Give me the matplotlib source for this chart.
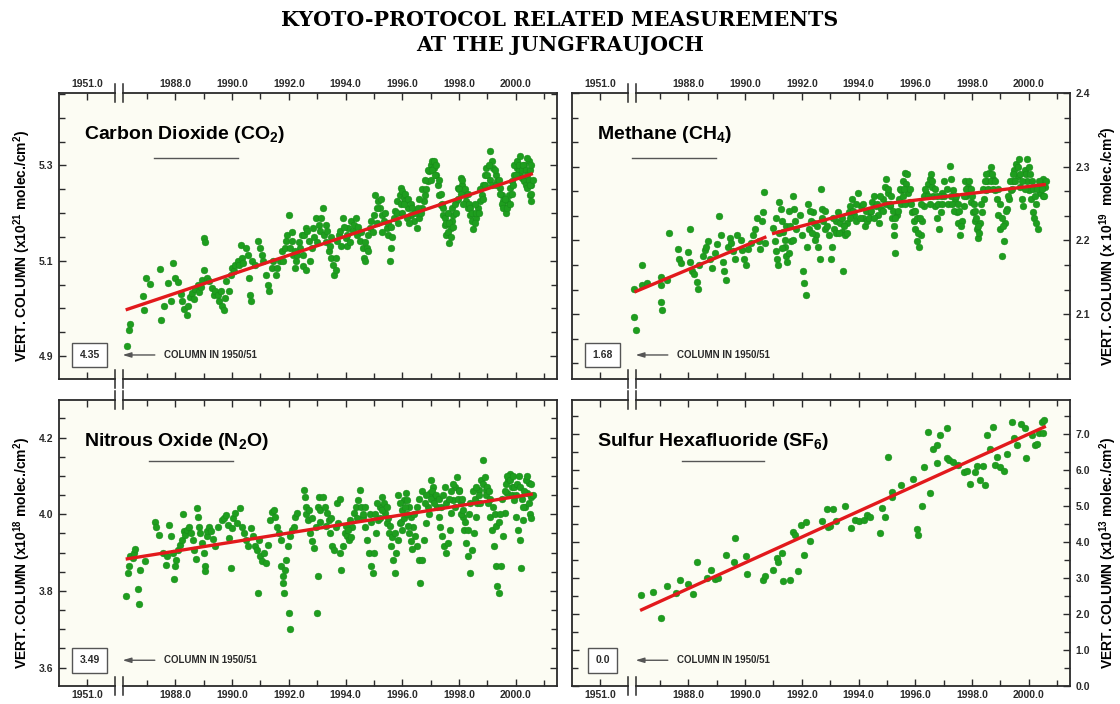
import numpy as np
import matplotlib
matplotlib.use('Agg')
import matplotlib.pyplot as plt
from matplotlib.ticker import FixedLocator, MultipleLocator
import matplotlib.transforms as mtransforms

plt.rcParams['font.family'] = ['Liberation Sans', 'DejaVu Sans']
plt.rcParams['font.weight'] = 'bold'
plt.rcParams['mathtext.fontset'] = 'custom'
plt.rcParams['mathtext.rm'] = 'Liberation Sans:bold'
plt.rcParams['mathtext.bf'] = 'Liberation Sans:bold'
plt.rcParams['mathtext.default'] = 'bf'

# ---- data (year, vertical column) ----
co2_pts = [
    (1986.28, 4.922), (1986.35, 4.955), (1986.40, 4.968),
    (1986.86, 5.026), (1986.90, 4.996), (1986.95, 5.064), (1987.10, 5.052), (1987.45, 5.082), (1987.50, 4.975),
    (1987.60, 5.006), (1987.75, 5.053), (1987.85, 5.015), (1987.90, 5.095), (1988.00, 5.064),
    (1988.10, 5.055), (1988.20, 5.030), (1988.25, 5.015), (1988.30, 4.998), (1988.40, 4.987), (1988.45, 5.005),
    (1988.50, 5.025), (1988.60, 5.033), (1988.65, 5.020), (1988.70, 5.040), (1988.80, 5.050), (1988.85, 5.035),
    (1988.90, 5.045), (1988.95, 5.060), (1989.00, 5.080), (1989.02, 5.148), (1989.05, 5.140),
    (1989.10, 5.064), (1989.20, 5.057), (1989.30, 5.043), (1989.35, 5.029), (1989.40, 5.036), (1989.50, 5.029),
    (1989.55, 5.015), (1989.60, 5.036), (1989.65, 5.006), (1989.70, 4.997), (1989.75, 5.022), (1989.80, 5.057),
    (1989.90, 5.036), (1989.95, 5.071), (1990.00, 5.085),
    (1990.05, 5.078), (1990.10, 5.092), (1990.20, 5.099), (1990.25, 5.092), (1990.30, 5.134), (1990.35, 5.106),
    (1990.40, 5.096), (1990.50, 5.127), (1990.55, 5.113), (1990.60, 5.064), (1990.62, 5.029), (1990.65, 5.015),
    (1990.70, 5.099), (1990.80, 5.092), (1990.90, 5.141), (1991.00, 5.127),
    (1991.05, 5.113), (1991.10, 5.099), (1991.20, 5.071), (1991.25, 5.050), (1991.30, 5.036), (1991.40, 5.085),
    (1991.45, 5.099), (1991.55, 5.071), (1991.60, 5.085), (1991.70, 5.099), (1991.75, 5.120), (1991.80, 5.099),
    (1991.85, 5.127), (1991.90, 5.141), (1991.95, 5.155), (1992.00, 5.197),
    (1992.05, 5.127), (1992.10, 5.141), (1992.15, 5.113), (1992.20, 5.085), (1992.25, 5.099), (1992.30, 5.113),
    (1992.40, 5.127), (1992.45, 5.155), (1992.50, 5.113), (1992.55, 5.155), (1992.60, 5.169), (1992.65, 5.162),
    (1992.70, 5.141), (1992.80, 5.127), (1992.85, 5.169), (1992.95, 5.190),
    (1993.05, 5.176), (1993.10, 5.162), (1993.20, 5.211), (1993.25, 5.155), (1993.30, 5.176), (1993.35, 5.162),
    (1993.40, 5.120), (1993.50, 5.106), (1993.55, 5.092), (1993.60, 5.071), (1993.65, 5.106), (1993.70, 5.141),
    (1993.75, 5.155), (1993.80, 5.162), (1993.90, 5.190), (1994.00, 5.148),
    (1994.05, 5.155), (1994.10, 5.169), (1994.20, 5.183), (1994.25, 5.162), (1994.30, 5.176), (1994.40, 5.155),
    (1994.50, 5.141), (1994.60, 5.127), (1994.65, 5.106), (1994.70, 5.099), (1994.75, 5.127), (1994.80, 5.155),
    (1994.85, 5.169), (1994.90, 5.183), (1995.00, 5.197),
    (1995.05, 5.239), (1995.15, 5.225), (1995.20, 5.211), (1995.30, 5.197), (1995.35, 5.183), (1995.45, 5.169),
    (1995.50, 5.155), (1995.55, 5.099), (1995.60, 5.127), (1995.70, 5.190), (1995.75, 5.204), (1995.80, 5.225),
    (1995.90, 5.239), (1995.95, 5.253),
    (1996.00, 5.246), (1996.05, 5.232), (1996.10, 5.225), (1996.20, 5.211), (1996.30, 5.197), (1996.40, 5.183),
    (1996.50, 5.169), (1996.60, 5.190), (1996.70, 5.211), (1996.75, 5.225), (1996.80, 5.239), (1996.90, 5.267),
    (1996.95, 5.288), (1997.00, 5.302),
    (1997.05, 5.309), (1997.10, 5.295), (1997.20, 5.281), (1997.25, 5.260), (1997.30, 5.239), (1997.35, 5.218),
    (1997.45, 5.197), (1997.50, 5.176), (1997.55, 5.155), (1997.65, 5.137), (1997.70, 5.169), (1997.75, 5.183),
    (1997.80, 5.197), (1997.90, 5.225), (1997.95, 5.253),
    (1998.05, 5.274), (1998.10, 5.260), (1998.20, 5.239), (1998.25, 5.225), (1998.30, 5.211), (1998.40, 5.197),
    (1998.45, 5.183), (1998.50, 5.166), (1998.60, 5.190), (1998.65, 5.211), (1998.75, 5.225), (1998.80, 5.239),
    (1998.85, 5.260), (1998.90, 5.281), (1998.95, 5.295),
    (1999.10, 5.330), (1999.15, 5.309), (1999.20, 5.295), (1999.30, 5.281), (1999.35, 5.267), (1999.45, 5.253),
    (1999.50, 5.239), (1999.55, 5.225), (1999.60, 5.211), (1999.70, 5.225), (1999.75, 5.239), (1999.80, 5.253),
    (1999.85, 5.267), (1999.95, 5.281),
    (2000.00, 5.302), (2000.05, 5.295), (2000.10, 5.288), (2000.15, 5.281), (2000.20, 5.274), (2000.30, 5.267),
    (2000.35, 5.260), (2000.40, 5.253), (2000.50, 5.239), (2000.55, 5.225), (2000.45, 5.309), (2000.40, 5.316),
    (2000.30, 5.302), (2000.55, 5.260),
    # denser part of the cloud
    (1992.10, 5.160), (1992.20, 5.120), (1992.35, 5.140), (1992.50, 5.090), (1992.60, 5.080), (1992.75, 5.100),
    (1992.90, 5.150), (1993.00, 5.140), (1993.15, 5.190), (1993.30, 5.140), (1993.45, 5.130), (1993.50, 5.150),
    (1993.65, 5.080), (1993.85, 5.130), (1993.95, 5.170), (1994.05, 5.130), (1994.15, 5.140), (1994.35, 5.190),
    (1994.45, 5.170), (1994.55, 5.160), (1994.70, 5.140), (1994.80, 5.120), (1994.95, 5.160),
    (1995.10, 5.180), (1995.10, 5.210), (1995.25, 5.230), (1995.30, 5.160), (1995.40, 5.200), (1995.50, 5.180),
    (1995.60, 5.170), (1995.65, 5.150), (1995.80, 5.200), (1995.85, 5.180), (1995.95, 5.220),
    (1996.00, 5.200), (1996.05, 5.220), (1996.10, 5.240), (1996.15, 5.190), (1996.20, 5.230), (1996.25, 5.180),
    (1996.30, 5.220), (1996.35, 5.210), (1996.45, 5.200), (1996.55, 5.210), (1996.60, 5.230), (1996.65, 5.200),
    (1996.70, 5.250), (1996.80, 5.270), (1996.85, 5.250), (1996.90, 5.290),
    (1997.00, 5.270), (1997.05, 5.290), (1997.10, 5.310), (1997.15, 5.280), (1997.20, 5.300), (1997.30, 5.270),
    (1997.35, 5.240), (1997.40, 5.220), (1997.45, 5.210), (1997.50, 5.190), (1997.55, 5.180), (1997.60, 5.160),
    (1997.60, 5.200), (1997.65, 5.180), (1997.70, 5.150), (1997.75, 5.210), (1997.80, 5.170), (1997.85, 5.220),
    (1997.90, 5.200), (1997.95, 5.230),
    (1998.00, 5.250), (1998.05, 5.240), (1998.10, 5.270), (1998.15, 5.220), (1998.20, 5.250), (1998.30, 5.240),
    (1998.35, 5.220), (1998.40, 5.210), (1998.45, 5.200), (1998.55, 5.180), (1998.55, 5.220), (1998.60, 5.200),
    (1998.70, 5.200), (1998.75, 5.250), (1998.85, 5.230), (1998.90, 5.260),
    (1999.00, 5.280), (1999.05, 5.300), (1999.10, 5.270), (1999.15, 5.260), (1999.25, 5.290), (1999.30, 5.260),
    (1999.40, 5.270), (1999.45, 5.240), (1999.50, 5.220), (1999.55, 5.210), (1999.60, 5.230), (1999.65, 5.200),
    (1999.70, 5.210), (1999.80, 5.220), (1999.85, 5.240), (1999.90, 5.260), (1999.95, 5.300),
    (2000.00, 5.280), (2000.05, 5.310), (2000.10, 5.300), (2000.15, 5.320), (2000.20, 5.290), (2000.25, 5.300),
    (2000.35, 5.290), (2000.40, 5.280), (2000.45, 5.270), (2000.50, 5.290), (2000.55, 5.300), (2000.50, 5.260),
    (2000.55, 5.240), (2000.60, 5.270),
]
ch4_pts = [
    (1986.08, 2.134), (1986.10, 2.096), (1986.16, 2.078), (1986.35, 2.167), (1986.38, 2.140), (1986.54, 2.142),
    (1987.02, 2.140), (1987.05, 2.150), (1987.05, 2.116), (1987.06, 2.106), (1987.24, 2.146), (1987.33, 2.210),
    (1987.62, 2.189), (1987.68, 2.175), (1987.75, 2.169),
    (1988.06, 2.215), (1988.00, 2.184), (1988.06, 2.171), (1988.13, 2.159), (1988.19, 2.155), (1988.32, 2.144),
    (1988.34, 2.134), (1988.38, 2.167), (1988.51, 2.179), (1988.57, 2.187), (1988.63, 2.191), (1988.70, 2.199),
    (1988.76, 2.175), (1988.83, 2.163), (1988.95, 2.183), (1989.02, 2.195), (1989.08, 2.233), (1989.14, 2.207),
    (1989.21, 2.171), (1989.27, 2.159), (1989.33, 2.146), (1989.40, 2.191), (1989.46, 2.203), (1989.52, 2.197),
    (1989.59, 2.185), (1989.65, 2.175), (1989.71, 2.207), (1989.84, 2.201), (1989.90, 2.187), (1989.97, 2.175),
    (1990.03, 2.167), (1990.10, 2.189), (1990.22, 2.197), (1990.29, 2.207), (1990.35, 2.215), (1990.41, 2.231),
    (1990.48, 2.199), (1990.54, 2.189), (1990.60, 2.227), (1990.63, 2.239), (1990.67, 2.266), (1990.70, 2.197),
    (1990.98, 2.217), (1991.05, 2.199), (1991.09, 2.185), (1991.14, 2.175), (1991.17, 2.167), (1991.21, 2.252),
    (1991.26, 2.243), (1991.30, 2.227), (1991.34, 2.211), (1991.39, 2.191), (1991.44, 2.179), (1991.49, 2.171),
    (1991.56, 2.183), (1991.62, 2.199), (1991.68, 2.260), (1991.72, 2.243), (1991.75, 2.227), (1991.78, 2.215),
    (1991.94, 2.235), (1992.00, 2.207), (1992.03, 2.159), (1992.06, 2.142), (1992.13, 2.126), (1992.19, 2.191),
    (1992.25, 2.215), (1992.32, 2.227), (1992.38, 2.239), (1992.44, 2.223), (1992.51, 2.207), (1992.57, 2.191),
    (1992.63, 2.175), (1992.66, 2.270), (1992.70, 2.243), (1992.76, 2.227), (1992.83, 2.215),
    (1992.95, 2.207), (1993.02, 2.175), (1993.08, 2.191), (1993.14, 2.215), (1993.21, 2.227), (1993.27, 2.239),
    (1993.33, 2.223), (1993.40, 2.211), (1993.46, 2.159), (1993.52, 2.207), (1993.59, 2.223), (1993.65, 2.239),
    (1993.71, 2.247), (1993.78, 2.256), (1993.84, 2.235), (1993.90, 2.227),
    (1993.97, 2.264), (1994.10, 2.247), (1994.16, 2.231), (1994.22, 2.219), (1994.29, 2.227), (1994.41, 2.239),
    (1994.48, 2.252), (1994.54, 2.260), (1994.60, 2.247), (1994.67, 2.235), (1994.73, 2.223), (1994.79, 2.243),
    (1994.86, 2.256), (1994.92, 2.272),
    (1994.98, 2.284), (1995.05, 2.264), (1995.11, 2.247), (1995.17, 2.231), (1995.24, 2.207), (1995.30, 2.183),
    (1995.36, 2.235), (1995.43, 2.256), (1995.49, 2.268), (1995.56, 2.280), (1995.62, 2.292), (1995.68, 2.276),
    (1995.75, 2.264), (1995.81, 2.252), (1995.87, 2.239), (1995.94, 2.227),
    (1996.00, 2.215), (1996.06, 2.199), (1996.13, 2.191), (1996.19, 2.207), (1996.25, 2.227), (1996.32, 2.247),
    (1996.38, 2.264), (1996.44, 2.276), (1996.51, 2.284), (1996.57, 2.272), (1996.63, 2.260), (1996.70, 2.247),
    (1996.76, 2.231), (1996.83, 2.215), (1996.89, 2.239),
    (1996.95, 2.264), (1997.02, 2.280), (1997.21, 2.301), (1997.27, 2.284), (1997.33, 2.268), (1997.40, 2.256),
    (1997.46, 2.239), (1997.52, 2.223), (1997.59, 2.207), (1997.65, 2.227), (1997.71, 2.247), (1997.78, 2.260),
    (1997.84, 2.272), (1997.90, 2.264), (1997.97, 2.252),
    (1998.03, 2.239), (1998.10, 2.227), (1998.16, 2.215), (1998.22, 2.203), (1998.29, 2.223), (1998.35, 2.239),
    (1998.41, 2.256), (1998.48, 2.268), (1998.54, 2.280), (1998.60, 2.292), (1998.67, 2.300), (1998.73, 2.284),
    (1998.79, 2.268), (1998.86, 2.256),
    (1998.92, 2.235), (1998.98, 2.215), (1999.05, 2.179), (1999.11, 2.199), (1999.17, 2.223), (1999.24, 2.243),
    (1999.30, 2.256), (1999.36, 2.268), (1999.43, 2.280), (1999.49, 2.296), (1999.56, 2.304), (1999.62, 2.288),
    (1999.68, 2.272), (1999.75, 2.256), (1999.81, 2.247),
    (1999.87, 2.296), (1999.94, 2.280), (2000.00, 2.268), (2000.06, 2.256), (2000.13, 2.239), (2000.19, 2.231),
    (2000.25, 2.223), (2000.32, 2.215), (2000.38, 2.264), (2000.44, 2.276), (2000.51, 2.284), (2000.57, 2.272),
    # denser part of the cloud
    (1991.10, 2.230), (1991.20, 2.210), (1991.30, 2.190), (1991.40, 2.200), (1991.45, 2.220), (1991.55, 2.240),
    (1991.60, 2.220), (1991.70, 2.200), (1992.20, 2.250), (1992.30, 2.240), (1992.35, 2.210), (1992.45, 2.200),
    (1992.55, 2.220), (1992.70, 2.230), (1992.80, 2.240), (1992.90, 2.220),
    (1993.10, 2.230), (1993.20, 2.210), (1993.30, 2.210), (1993.40, 2.230), (1993.50, 2.220), (1993.60, 2.210),
    (1993.70, 2.230), (1993.80, 2.240), (1993.90, 2.250),
    (1994.05, 2.230), (1994.15, 2.250), (1994.25, 2.240), (1994.35, 2.230), (1994.45, 2.240), (1994.55, 2.230),
    (1994.65, 2.250), (1994.75, 2.260), (1994.85, 2.240), (1994.95, 2.250),
    (1995.05, 2.270), (1995.10, 2.250), (1995.15, 2.260), (1995.20, 2.240), (1995.25, 2.220), (1995.30, 2.230),
    (1995.40, 2.240), (1995.45, 2.270), (1995.50, 2.250), (1995.55, 2.260), (1995.60, 2.270), (1995.65, 2.250),
    (1995.70, 2.290), (1995.80, 2.270), (1995.85, 2.250), (1995.95, 2.240),
    (1996.00, 2.240), (1996.05, 2.230), (1996.10, 2.210), (1996.15, 2.230), (1996.20, 2.250), (1996.30, 2.260),
    (1996.35, 2.270), (1996.45, 2.260), (1996.50, 2.250), (1996.55, 2.290), (1996.60, 2.280), (1996.70, 2.270),
    (1996.75, 2.260), (1996.80, 2.250), (1996.90, 2.260), (1996.95, 2.250),
    (1997.00, 2.260), (1997.10, 2.270), (1997.15, 2.250), (1997.25, 2.260), (1997.30, 2.250), (1997.35, 2.240),
    (1997.45, 2.260), (1997.50, 2.250), (1997.55, 2.240), (1997.60, 2.220), (1997.70, 2.260), (1997.75, 2.280),
    (1997.80, 2.270), (1997.90, 2.280), (1997.95, 2.270),
    (1998.00, 2.260), (1998.05, 2.250), (1998.10, 2.240), (1998.15, 2.230), (1998.20, 2.220), (1998.25, 2.210),
    (1998.30, 2.250), (1998.40, 2.270), (1998.45, 2.280), (1998.50, 2.290), (1998.55, 2.270), (1998.65, 2.280),
    (1998.70, 2.290), (1998.75, 2.270), (1998.80, 2.280), (1998.90, 2.270),
    (1999.00, 2.250), (1999.05, 2.230), (1999.10, 2.220), (1999.20, 2.240), (1999.25, 2.260), (1999.35, 2.280),
    (1999.40, 2.270), (1999.45, 2.290), (1999.50, 2.280), (1999.60, 2.300), (1999.65, 2.310), (1999.70, 2.290),
    (1999.75, 2.280), (1999.85, 2.270), (1999.90, 2.290), (1999.95, 2.310),
    (2000.00, 2.300), (2000.05, 2.290), (2000.10, 2.280), (2000.15, 2.270), (2000.20, 2.260), (2000.30, 2.270),
    (2000.35, 2.280), (2000.45, 2.270), (2000.50, 2.260), (2000.55, 2.260), (2000.60, 2.280), (2000.25, 2.250),
]
n2o_pts = [
    (1986.25, 3.788), (1986.32, 3.847), (1986.36, 3.864), (1986.40, 3.890), (1986.50, 3.885), (1986.55, 3.899),
    (1986.58, 3.910), (1986.67, 3.806), (1986.73, 3.767), (1986.77, 3.855), (1986.93, 3.877), (1987.27, 3.980),
    (1987.31, 3.968), (1987.44, 3.946), (1987.57, 3.899), (1987.66, 3.868), (1987.70, 3.890), (1987.77, 3.972),
    (1987.83, 3.942), (1987.90, 3.899), (1987.96, 3.830),
    (1987.99, 3.864), (1988.03, 3.881), (1988.09, 3.907), (1988.16, 3.920), (1988.22, 3.933), (1988.26, 4.000),
    (1988.32, 3.955), (1988.35, 3.946), (1988.42, 3.959), (1988.48, 3.968), (1988.55, 3.951), (1988.61, 3.933),
    (1988.67, 3.907), (1988.74, 3.883), (1988.76, 4.016), (1988.80, 3.994), (1988.84, 3.968), (1988.87, 3.951),
    (1988.93, 3.925), (1989.00, 3.899), (1989.03, 3.864), (1989.06, 3.851), (1989.10, 3.942), (1989.13, 3.955),
    (1989.19, 3.968), (1989.26, 3.955), (1989.32, 3.935), (1989.39, 3.916), (1989.51, 3.968), (1989.64, 3.985),
    (1989.71, 3.990), (1989.77, 3.998), (1989.84, 3.972), (1989.90, 3.938), (1989.97, 3.860),
    (1990.00, 3.964), (1990.03, 3.990), (1990.10, 4.003), (1990.16, 3.977), (1990.29, 4.016), (1990.35, 3.968),
    (1990.42, 3.951), (1990.48, 3.933), (1990.55, 3.916), (1990.68, 3.964), (1990.74, 3.942), (1990.81, 3.916),
    (1990.87, 3.907), (1990.91, 3.795), (1990.94, 3.933), (1991.00, 3.890), (1991.07, 3.877), (1991.13, 3.899),
    (1991.20, 3.873), (1991.26, 3.920), (1991.33, 3.985), (1991.39, 4.007), (1991.46, 4.011), (1991.52, 3.994),
    (1991.59, 3.968), (1991.65, 3.951), (1991.72, 3.933),
    (1991.74, 3.864), (1991.78, 3.838), (1991.81, 3.821), (1991.84, 3.795), (1992.00, 3.743), (1992.05, 3.700),
    (1991.88, 3.855), (1991.91, 3.881), (1991.97, 3.916), (1992.04, 3.942), (1992.10, 3.959), (1992.17, 3.968),
    (1992.23, 3.994), (1992.30, 4.003), (1992.52, 4.063), (1992.56, 4.046), (1992.62, 4.020), (1992.69, 3.985),
    (1992.75, 3.951), (1992.82, 3.929), (1992.88, 3.912), (1992.95, 3.968), (1993.01, 4.020), (1992.98, 3.743),
    (1993.04, 3.838), (1993.06, 4.046), (1993.10, 4.011), (1993.20, 4.046), (1993.27, 4.020), (1993.33, 4.003),
    (1993.40, 3.985), (1993.46, 3.951), (1993.53, 3.916), (1993.59, 3.907), (1993.66, 3.968), (1993.72, 3.977),
    (1993.79, 3.899), (1993.85, 3.855),
    (1993.92, 3.916), (1993.98, 3.951), (1994.05, 3.942), (1994.11, 3.933), (1994.17, 3.985), (1994.24, 3.968),
    (1994.30, 4.003), (1994.37, 4.020), (1994.43, 4.037), (1994.50, 4.063), (1994.56, 4.020), (1994.63, 3.994),
    (1994.69, 3.968), (1994.76, 3.933), (1994.82, 3.899), (1994.89, 3.864), (1994.95, 3.847),
    (1995.01, 3.899), (1995.08, 3.951), (1995.14, 3.985), (1995.21, 4.020), (1995.27, 4.046), (1995.34, 4.029),
    (1995.40, 4.003), (1995.47, 3.977), (1995.53, 3.951), (1995.60, 3.916), (1995.66, 3.881), (1995.73, 3.847),
    (1995.79, 3.899), (1995.86, 3.933), (1995.92, 3.977), (1995.99, 4.011), (1996.05, 4.037), (1996.12, 4.055),
    (1996.18, 4.037), (1996.25, 4.020), (1996.31, 3.994), (1996.37, 3.968), (1996.44, 3.942), (1996.50, 3.916),
    (1996.57, 3.881), (1996.63, 3.820),
    (1996.70, 3.881), (1996.76, 3.933), (1996.83, 3.977), (1996.89, 4.020), (1996.96, 4.055), (1997.02, 4.089),
    (1997.09, 4.072), (1997.15, 4.046), (1997.21, 4.020), (1997.28, 3.994), (1997.34, 3.968), (1997.41, 3.942),
    (1997.47, 3.916), (1997.54, 3.899), (1997.60, 3.925), (1997.67, 3.959), (1997.73, 4.003), (1997.80, 4.037),
    (1997.86, 4.072), (1997.93, 4.098),
    (1997.99, 4.063), (1998.06, 4.029), (1998.12, 3.994), (1998.19, 3.959), (1998.25, 3.925), (1998.32, 3.890),
    (1998.38, 3.847), (1998.45, 3.907), (1998.51, 3.951), (1998.58, 3.994), (1998.64, 4.029), (1998.71, 4.063),
    (1998.77, 4.089), (1998.83, 4.141), (1998.90, 4.098), (1998.96, 4.063), (1999.03, 4.029), (1999.09, 3.994),
    (1999.16, 3.959), (1999.22, 3.916), (1999.29, 3.864), (1999.35, 3.812), (1999.42, 3.795), (1999.48, 3.864),
    (1999.55, 3.942), (1999.61, 4.003), (1999.68, 4.055), (1999.74, 4.089), (1999.81, 4.106), (1999.87, 4.072),
    (1999.93, 4.037), (2000.00, 3.994), (2000.06, 3.959), (2000.13, 3.933), (2000.19, 3.860), (2000.26, 3.985),
    (2000.32, 4.020), (2000.39, 4.055), (2000.45, 4.081), (2000.52, 4.046),
    # denser part of the cloud
    (1992.60, 4.000), (1992.70, 4.010), (1992.80, 3.990), (1993.10, 3.980), (1993.30, 3.970), (1993.50, 3.990),
    (1993.70, 4.030), (1993.80, 4.040), (1994.00, 3.970), (1994.10, 3.960), (1994.20, 3.940), (1994.40, 3.990),
    (1994.60, 4.000), (1994.70, 4.020), (1994.85, 4.000), (1994.90, 3.980),
    (1995.05, 4.000), (1995.10, 4.030), (1995.20, 3.990), (1995.30, 4.010), (1995.45, 4.020), (1995.50, 3.990),
    (1995.55, 3.970), (1995.65, 3.940), (1995.75, 3.950), (1995.85, 4.050), (1995.90, 4.030), (1995.95, 3.980),
    (1996.00, 3.960), (1996.05, 3.990), (1996.10, 4.020), (1996.15, 4.000), (1996.20, 3.970), (1996.25, 3.950),
    (1996.30, 3.930), (1996.35, 3.910), (1996.40, 4.000), (1996.50, 4.020), (1996.60, 4.040), (1996.70, 4.060),
    (1996.80, 4.030), (1996.85, 4.050), (1996.95, 4.000),
    (1997.00, 4.040), (1997.05, 4.060), (1997.10, 4.030), (1997.20, 4.050), (1997.30, 4.040), (1997.35, 4.020),
    (1997.45, 4.050), (1997.50, 4.070), (1997.55, 4.030), (1997.65, 4.040), (1997.70, 4.060), (1997.80, 4.080),
    (1997.85, 4.020), (1997.95, 4.040),
    (1998.00, 4.060), (1998.05, 4.000), (1998.10, 4.040), (1998.15, 4.010), (1998.20, 3.980), (1998.30, 3.960),
    (1998.35, 4.000), (1998.40, 4.030), (1998.50, 4.060), (1998.55, 4.040), (1998.60, 4.070), (1998.70, 4.050),
    (1998.75, 4.030), (1998.85, 4.080), (1998.95, 4.050),
    (1999.00, 4.070), (1999.05, 4.060), (1999.10, 4.040), (1999.20, 4.020), (1999.25, 4.000), (1999.30, 3.970),
    (1999.40, 3.980), (1999.45, 4.000), (1999.50, 4.040), (1999.60, 4.060), (1999.65, 4.080), (1999.70, 4.100),
    (1999.80, 4.090), (1999.85, 4.050), (1999.90, 4.100), (1999.95, 4.070),
    (2000.00, 4.050), (2000.05, 4.080), (2000.10, 4.100), (2000.15, 4.070), (2000.20, 4.040), (2000.25, 4.020),
    (2000.30, 4.060), (2000.35, 4.090), (2000.40, 4.100), (2000.45, 4.030), (2000.50, 4.000), (2000.55, 3.990),
    (2000.60, 4.050), (2000.55, 4.080),
]
sf6_pts = [
    (1986.32, 2.54), (1986.77, 2.61), (1987.02, 1.89), (1987.25, 2.77), (1987.58, 2.59), (1987.70, 2.96),
    (1987.99, 2.84), (1988.15, 2.56), (1988.32, 3.46), (1988.64, 3.00), (1988.80, 3.23), (1988.93, 2.98),
    (1989.03, 3.00), (1989.34, 3.65), (1989.62, 3.46), (1989.66, 4.11), (1990.04, 3.60), (1990.08, 3.11),
    (1990.62, 2.96), (1990.69, 3.07), (1990.98, 3.23), (1991.11, 3.56), (1991.17, 3.46), (1991.30, 3.69),
    (1991.34, 2.91), (1991.60, 2.94), (1991.69, 4.29), (1991.75, 4.20), (1991.88, 3.21), (1991.98, 4.48),
    (1992.14, 4.57), (1992.07, 3.65), (1992.30, 4.02), (1992.72, 4.60), (1992.88, 4.91), (1992.93, 4.43),
    (1992.99, 4.46), (1993.11, 4.91), (1993.19, 4.59), (1993.51, 5.00), (1993.74, 4.39), (1993.87, 4.62),
    (1994.00, 4.59), (1994.19, 4.62), (1994.30, 4.76), (1994.40, 4.71), (1994.75, 4.25), (1994.84, 4.94),
    (1994.94, 4.71), (1995.03, 6.37), (1995.16, 5.26), (1995.19, 5.40), (1995.48, 5.59), (1995.93, 5.75),
    (1996.06, 4.36), (1996.10, 4.20), (1996.22, 4.99), (1996.31, 6.10), (1996.44, 7.06), (1996.53, 5.37),
    (1996.61, 6.60), (1996.76, 6.70), (1996.76, 6.19), (1996.87, 6.97), (1997.11, 7.18), (1997.11, 6.33),
    (1997.19, 6.28), (1997.32, 6.23), (1997.51, 6.14), (1997.73, 5.94), (1997.83, 5.98), (1997.92, 5.61),
    (1998.11, 5.94), (1998.18, 6.12), (1998.28, 5.73), (1998.37, 6.12), (1998.47, 5.59), (1998.54, 6.97),
    (1998.63, 6.60), (1998.73, 7.20), (1998.82, 6.14), (1998.88, 6.37), (1998.97, 6.10), (1999.14, 5.98),
    (1999.24, 6.46), (1999.40, 7.34), (1999.49, 6.88), (1999.59, 6.71), (1999.74, 7.27), (1999.85, 7.16),
    (1999.91, 6.33), (2000.10, 6.99), (2000.21, 6.70), (2000.30, 6.74), (2000.36, 7.02), (2000.45, 7.34),
    (2000.51, 7.02), (2000.55, 7.39),
]

# trend lines: (start year, end year, start value, end value)
co2_trend = [(1986.25, 2000.6, 4.997, 5.283)]
ch4_trend = [(1986.1, 1990.75, 2.130, 2.205), (1990.95, 1995.0, 2.209, 2.250), (1995.0, 2000.6, 2.250, 2.276)]
n2o_trend = [(1986.25, 2000.6, 3.883, 4.053)]
sf6_trend = [(1986.3, 2000.6, 2.10, 7.22)]

names = ['Carbon Dioxide (CO$_2$)', 'Methane (CH$_4$)', 'Nitrous Oxide (N$_2$O)', 'Sulfur Hexafluoride (SF$_6$)']
col_1950 = ['4.35', '1.68', '3.49', '0.0']
ylabels = ['VERT. COLUMN (x10$^{21}$ molec./cm$^2$)', 'VERT. COLUMN (x 10$^{19}$  molec./cm$^2$)',
           'VERT. COLUMN (x10$^{18}$ molec./cm$^2$)', 'VERT. COLUMN (x10$^{13}$ molec./cm$^2$)']
ylims = [(4.852, 5.452), (2.012, 2.40), (3.552, 4.298), (0.0, 7.95)]
ymajor = [[4.9, 5.1, 5.3], [2.1, 2.2, 2.3, 2.4], [3.6, 3.8, 4.0, 4.2], [0, 1, 2, 3, 4, 5, 6, 7]]
yminor = [0.05, 0.1 / 3, 0.05, 0.5]

year_ticks = [1988, 1990, 1992, 1994, 1996, 1998, 2000]
x_lo, x_hi = 1983.9, 2001.45
x_1951 = 1984.9            # where the 1951.0 tick sits on the broken axis
brk = (1985.88, 1986.16)   # axis break

green = '#1e9e1e'
red = '#e2191c'
ink = '#2a2a2a'

fig = plt.figure(figsize=(11.2, 7.04), dpi=100)
W, H = 1120, 704
frames = [(59, 93), (572, 93), (59, 400), (572, 400)]
fw, fh = 498, 286

fig.text(0.5, 1 - 20 / H, 'KYOTO-PROTOCOL RELATED MEASUREMENTS', ha='center', va='center',
         family='DejaVu Serif', weight='bold', fontsize=14.8)
fig.text(0.5, 1 - 45 / H, 'AT THE JUNGFRAUJOCH', ha='center', va='center',
         family='DejaVu Serif', weight='bold', fontsize=14.8)

all_pts = [co2_pts, ch4_pts, n2o_pts, sf6_pts]
all_trends = [co2_trend, ch4_trend, n2o_trend, sf6_trend]

for i in range(4):
    x0, y0 = frames[i]
    ax = fig.add_axes([x0 / W, 1 - (y0 + fh) / H, fw / W, fh / H])
    ax.set_facecolor('#fcfcf3')
    top_row = i < 2
    right_side = i % 2 == 1

    pts = np.array(all_pts[i])
    ax.scatter(pts[:, 0], pts[:, 1], s=24, color=green, edgecolors='#17871a', linewidths=0.3, zorder=3)
    for xs, xe, ys, ye in all_trends[i]:
        ax.plot([xs, xe], [ys, ye], color=red, lw=2.4, zorder=4, solid_capstyle='butt')

    ax.set_xlim(x_lo, x_hi)
    ax.set_ylim(*ylims[i])

    # x axis: ticks and labels
    ax.xaxis.set_major_locator(FixedLocator([x_1951] + year_ticks))
    ax.set_xticklabels(['1951.0'] + ['%.1f' % y for y in year_ticks])
    ax.xaxis.set_minor_locator(FixedLocator([1987, 1989, 1991, 1993, 1995, 1997, 1999, 2001]))
    ax.tick_params(axis='x', which='both', direction='in', top=True, bottom=True,
                   labeltop=top_row, labelbottom=not top_row, labelsize=7.5, colors=ink, pad=3)
    ax.tick_params(axis='x', which='major', length=5, width=1)
    ax.tick_params(axis='x', which='minor', length=4, width=1)

    # y axis
    ax.yaxis.set_major_locator(FixedLocator(ymajor[i]))
    ax.set_yticklabels(['%.1f' % v for v in ymajor[i]])
    ax.yaxis.set_minor_locator(MultipleLocator(yminor[i]))
    ax.tick_params(axis='y', which='both', direction='in', left=True, right=True,
                   labelleft=not right_side, labelright=right_side, labelsize=7.5, colors=ink, pad=4)
    ax.tick_params(axis='y', which='major', length=5, width=1)
    ax.tick_params(axis='y', which='minor', length=4, width=1)
    for lab in ax.get_xticklabels() + ax.get_yticklabels():
        lab.set_fontweight('bold')

    # frame with a break in the time axis
    for s in ['left', 'right']:
        ax.spines[s].set_color(ink)
        ax.spines[s].set_linewidth(1.3)
    ax.spines['top'].set_visible(False)
    ax.spines['bottom'].set_visible(False)
    tr = mtransforms.blended_transform_factory(ax.transData, ax.transAxes)
    for yy in (0, 1):
        ax.plot([x_lo, brk[0]], [yy, yy], transform=tr, color=ink, lw=1.3, clip_on=False, zorder=5)
        ax.plot([brk[1], x_hi], [yy, yy], transform=tr, color=ink, lw=1.3, clip_on=False, zorder=5)
        for bx in brk:
            ax.plot([bx, bx], [yy - 0.03, yy + 0.03], transform=tr, color=ink, lw=1.1,
                    clip_on=False, zorder=5)

    # panel title and the short line under it
    ax.text(0.05, 0.855, names[i], transform=ax.transAxes, fontsize=14, weight='bold',
            va='center', ha='left', color='black')
    lx = [(0.19, 0.36), (0.12, 0.29), (0.18, 0.35), (0.22, 0.385)][i]
    ly = 0.772 if top_row else 0.785
    ax.plot(lx, [ly, ly], transform=ax.transAxes, color='#555555', lw=1.0)

    # 1950/51 column box and arrow
    by = 0.084 if top_row else 0.09
    ax.text(0.062, by, col_1950[i], transform=ax.transAxes, fontsize=7.5, weight='bold',
            ha='center', va='center', color=ink,
            bbox=dict(boxstyle='square,pad=0.7', fc='white', ec='#555555', lw=1.0))
    ax.annotate('', xy=(0.122, by), xytext=(0.198, by), xycoords='axes fraction',
                arrowprops=dict(arrowstyle='-|>,head_length=0.5,head_width=0.15', color='#555555', lw=1.0))
    ax.text(0.21, by, 'COLUMN IN 1950/51', transform=ax.transAxes, fontsize=7, weight='bold',
            ha='left', va='center', color=ink)

    # axis titles
    cy = 1 - (y0 + fh / 2 + 10) / H
    cx = 22 / W if not right_side else 1108 / W
    fig.text(cx, cy, ylabels[i], rotation=90, ha='center', va='center', fontsize=10, weight='bold')

fig.savefig('out.png', dpi=100)
